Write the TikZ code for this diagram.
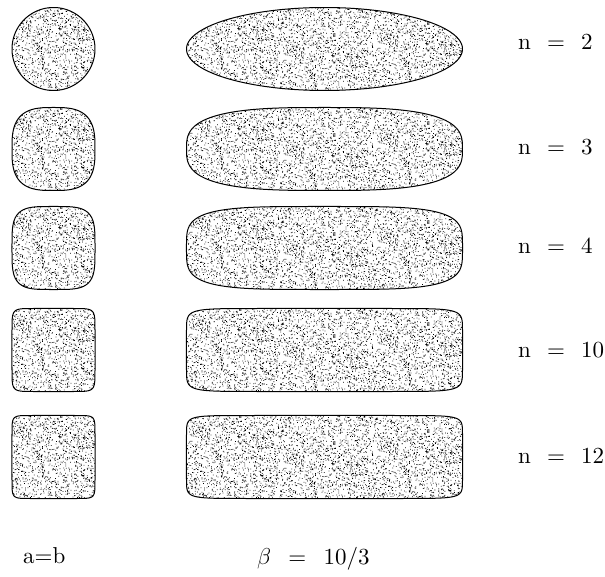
\RequirePackage{fix-cm}
\documentclass[tikz,border=0pt]{standalone}
\usepackage{fontspec}
\setmainfont{lmroman10-regular.otf}
\usepackage{tikz}

% random stipple tile, 94pt x 88pt, built once
\newcommand\stdot[2]{\pgfpathrectangle{\pgfqpoint{#1pt}{#2pt}}{\pgfqpoint{0.75pt}{0.75pt}}}
\pgfmathsetseed{4711}
\gdef\stipplelist{}
\foreach \i in {1,...,1500}
  {\pgfmathsetmacro\px{94*rnd}\pgfmathsetmacro\py{88*rnd}%
   \xdef\stipplelist{\unexpanded\expandafter{\stipplelist}\noexpand\stdot{\px}{\py}}}
\newcommand\stipple[2]{\begin{scope}[shift={(#1,#2)}]\stipplelist\pgfusepath{fill}\end{scope}}

\tikzset{
  outline/.style={draw=black, line width=1pt},
  lbl/.style={font=\fontsize{23}{27}\selectfont, inner sep=0pt, anchor=base west}
}

\begin{document}
\begin{tikzpicture}[x=1pt, y=-1pt,
  declare function={sgp(\u,\p)=\u/abs(\u)*abs(\u)^\p;}]
  \useasboundingbox (0,0) rectangle (605,577);
  \foreach \n/\yc/\yb in {2/49/50, 3/149/155, 4/248/254, 10/350/357, 12/457/463}
    { % left: a = b
      \begin{scope}
        \clip plot[domain=0.5:359.5, samples=360, variable=\t]
          ({53.5+41.5*sgp(cos(\t),2/\n)}, {\yc+41.5*sgp(sin(\t),2/\n)}) -- cycle;
        \stipple{6.5}{\yc+44}
      \end{scope}
      \draw[outline] plot[domain=0.5:359.5, samples=360, variable=\t]
        ({53.5+41.5*sgp(cos(\t),2/\n)}, {\yc+41.5*sgp(sin(\t),2/\n)}) -- cycle;
      % right: beta = 10/3
      \begin{scope}
        \clip plot[domain=0.5:359.5, samples=360, variable=\t]
          ({324.5+138*sgp(cos(\t),2/\n)}, {\yc+41.5*sgp(sin(\t),2/\n)}) -- cycle;
        \foreach \k/\dy in {0/44,1/71,2/59} {\stipple{185.5+94*\k}{\yc+\dy}}
        \foreach \k/\dy in {0/-44,1/-17,2/-29} {\stipple{185.5+94*\k}{\yc+\dy}}
      \end{scope}
      \draw[outline] plot[domain=0.5:359.5, samples=360, variable=\t]
        ({324.5+138*sgp(cos(\t),2/\n)}, {\yc+41.5*sgp(sin(\t),2/\n)}) -- cycle;
      \node[lbl] (n\n) at (518,\yb) {n\hspace{0.7em}=\hspace{0.7em}\n};
    }
  \node[lbl] (ab) at (23,563) {a=b};
  \node[lbl] (beta) at (257,564) {$\beta$\hspace{0.75em}=\hspace{0.75em}10/3};
\end{tikzpicture}
\end{document}
